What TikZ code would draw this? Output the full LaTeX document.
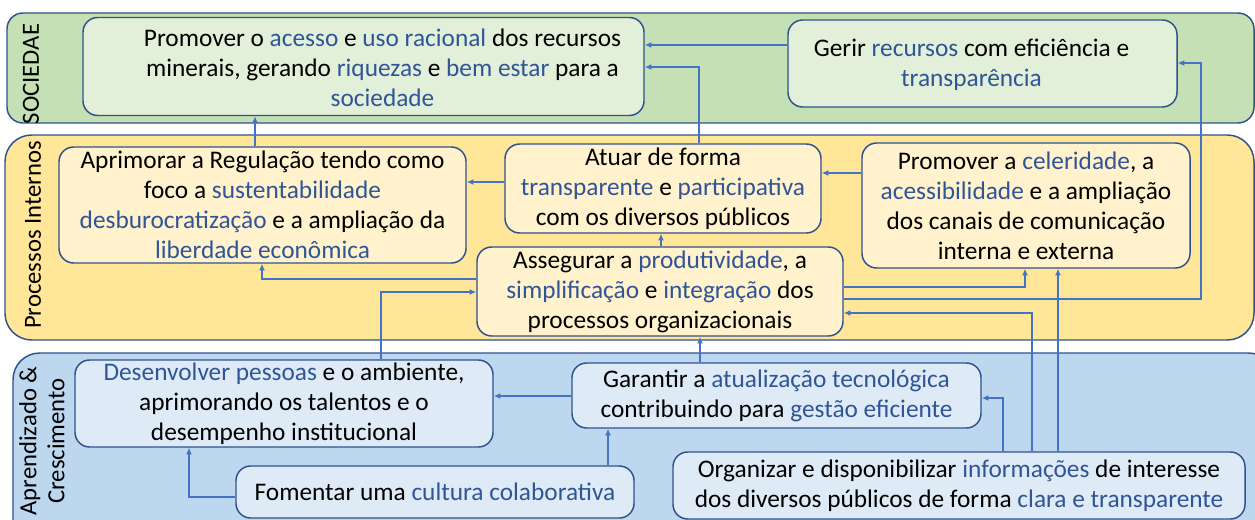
\documentclass[tikz,border=0pt]{standalone}
\usepackage{fontspec}
\setmainfont{Carlito}
\usetikzlibrary{arrows.meta}

\definecolor{cLine}{RGB}{47,82,143}
\definecolor{cArrow}{RGB}{68,114,196}
\definecolor{cWord}{RGB}{47,85,151}
\definecolor{cSocBand}{RGB}{197,224,180}
\definecolor{cSocBox}{RGB}{226,240,217}
\definecolor{cProcBand}{RGB}{255,230,153}
\definecolor{cProcBox}{RGB}{255,242,204}
\definecolor{cLearnBand}{RGB}{189,215,238}
\definecolor{cLearnBox}{RGB}{222,235,247}

\newcommand{\kw}[1]{\textcolor{cWord}{#1}}

\tikzset{
	every picture/.style={line width=0.75pt},
	band/.style={draw=cLine, line width=1.1pt},
	box/.style={draw=cLine, line width=1.1pt, rounded corners=11pt, inner sep=0pt, align=center, font=\fontsize{19}{22.5}\selectfont},
	lbl/.style={rotate=90, align=center, inner sep=0pt, font=\fontsize{18.5}{21}\selectfont},
	link/.style={draw=cArrow, line width=1.1pt, -{Latex[length=5pt,width=4.5pt]}}}

\begin{document}
\begin{tikzpicture}[x=0.75pt,y=0.75pt,yscale=-1,xscale=1]
	\useasboundingbox (0,0) rectangle (1255,520);
	\clip (0,0) rectangle (1255,520);

	%Bands
	\draw [band, fill=cSocBand, rounded corners=12pt] (7,13) rectangle (1254,123);
	\draw [band, fill=cProcBand, rounded corners=20pt] (5,135) rectangle (1254,340);
	\draw [band, fill=cLearnBand, rounded corners=20pt] (13,353) rectangle (1275,560);

	% Band labels
	\node [lbl] (lsoc) at (31,74) {SOCIEDAE};
	\node [lbl] (lproc) at (33,235) {Processos Internos};
	\node [lbl] (llearn) at (42,441) {Aprendizado \&\\Crescimento};

	%Sociedade
	\node [box, fill=cSocBox, minimum width=420.75pt, minimum height=72.75pt] (soc1) at (363.5,66.5)
		{\hspace*{28.5pt}\begin{tabular}{@{}c@{}}\rule{0pt}{21.75pt}Promover o \kw{acesso} e \kw{uso racional} dos recursos\\minerais, gerando \kw{riquezas} e \kw{bem estar} para a\\\kw{sociedade}\end{tabular}};
	\node [box, fill=cSocBox, minimum width=291.75pt, minimum height=65.25pt] (soc2) at (982.5,63.5)
		{\begin{tabular}{@{}c@{}}\rule{0pt}{19pt}Gerir \kw{recursos} com eficiência e\\\kw{transparência}\end{tabular}\hspace*{16.5pt}};

	%Processos Internos
	\node [box, fill=cProcBox, minimum width=305.25pt, minimum height=87pt] (pi1) at (262.5,205)
		{Aprimorar a Regulação tendo como\\foco a \kw{sustentabilidade}\\\kw{desburocratização} e a ampliação da\\\kw{liberdade econômica}};
	\node [box, fill=cProcBox, minimum width=237pt, minimum height=66.75pt] (pi2) at (663,188.5)
		{Atuar de forma\\\kw{transparente} e \kw{participativa}\\com os diversos públicos};
	\node [box, fill=cProcBox, minimum width=246pt, minimum height=93.75pt] (pi3) at (1026,205.5)
		{Promover a \kw{celeridade}, a\\\kw{acessibilidade} e a ampliação\\dos canais de comunicação\\interna e externa};
	\node [box, fill=cProcBox, minimum width=274.5pt, minimum height=66.75pt] (pi4) at (660,291.5)
		{Assegurar a \kw{produtividade}, a\\\kw{simplificação} e \kw{integração} dos\\processos organizacionais};

	%Aprendizado e Crescimento
	\node [box, fill=cLearnBox, minimum width=313.5pt, minimum height=65.25pt] (ac1) at (284,403.5)
		{\kw{Desenvolver pessoas} e o ambiente,\\aprimorando os talentos e o\\desempenho institucional};
	\node [box, fill=cLearnBox, minimum width=306.75pt, minimum height=48.75pt] (ac2) at (776.5,395.5)
		{Garantir a \kw{atualização tecnológica}\\contribuindo para \kw{gestão eficiente}};
	\node [box, fill=cLearnBox, minimum width=298.5pt, minimum height=39pt] (ac3) at (435,492)
		{Fomentar uma \kw{cultura colaborativa}};
	\node [box, fill=cLearnBox, minimum width=429pt, minimum height=50.25pt] (ac4) at (959,485.5)
		{Organizar e disponibilizar \kw{informações} de interesse\\dos diversos públicos de forma \kw{clara e transparente}};

	%Connectors
	\draw [link] (pi1.north -| 255,0) -- (soc1.south -| 255,0);
	\draw [link] (soc2.west |- 0,45) -- (soc1.east |- 0,45);
	\draw [link] (pi2.north -| 699,0) |- (soc1.east |- 0,67);
	\draw [link] (pi2.west |- 0,182) -- (pi1.east |- 0,182);
	\draw [link] (pi3.west |- 0,173) -- (pi2.east |- 0,173);
	\draw [link] (pi4.north -| 661,0) -- (pi2.south -| 661,0);
	\draw [link] (pi4.west |- 0,279) -| (pi1.south -| 262,0);
	\draw [link] (ac1.north -| 381,0) |- (pi4.west |- 0,292);
	\draw [link] (pi4.east |- 0,287) -| (pi3.south -| 1025,0);
	\draw [link] (pi4.east |- 0,299) -| (1201,63) -- (soc2.east |- 0,63);
	\draw [link] (ac4.north -| 1032,0) |- (pi4.east |- 0,313);
	\draw [link] (ac4.north -| 1058,0) -- (pi3.south -| 1058,0);
	\draw [link] (ac4.north -| 1003,0) |- (ac2.east |- 0,398);
	\draw [link] (ac2.north -| 700,0) -- (pi4.south -| 700,0);
	\draw [link] (ac2.west |- 0,396) -- (ac1.east |- 0,396);
	\draw [link] (ac3.north -| 608,0) -- (ac2.south -| 608,0);
	\draw [link] (ac3.west |- 0,497) -| (ac1.south -| 189,0);

\end{tikzpicture}
\end{document}
